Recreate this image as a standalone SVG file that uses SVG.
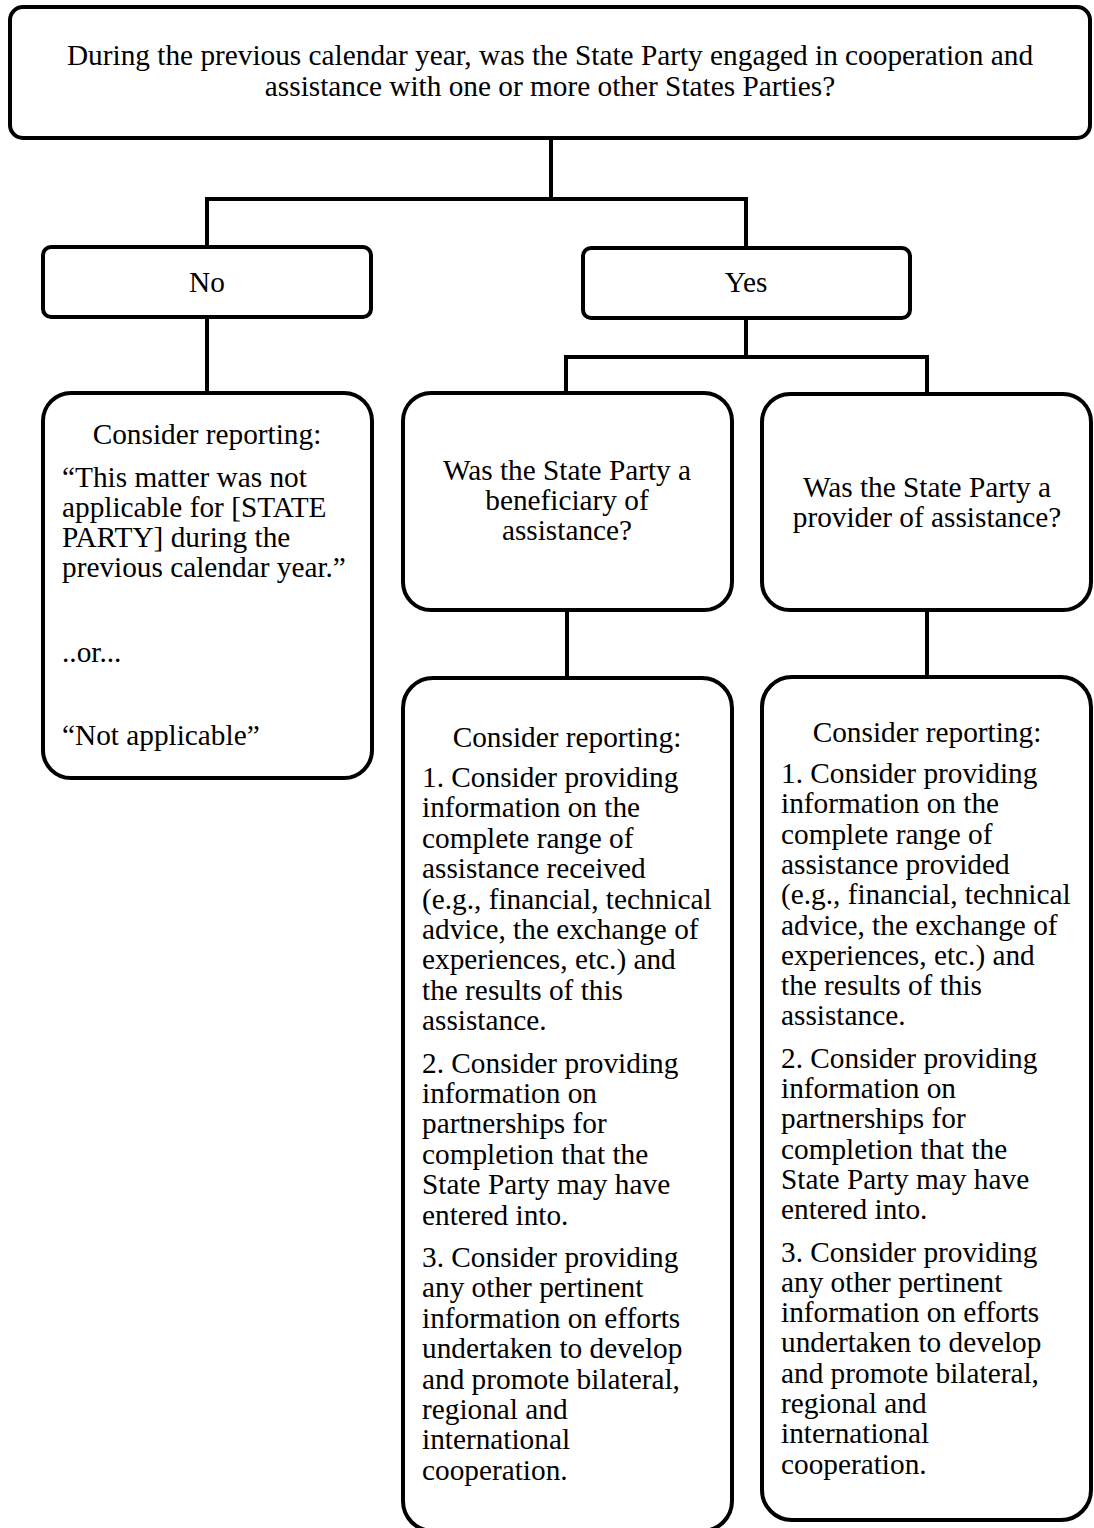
<svg xmlns="http://www.w3.org/2000/svg" width="1094" height="1528" viewBox="0 0 1094 1528">
<style>
.box{fill:#fff;stroke:#000;stroke-width:4}
.con{fill:none;stroke:#000;stroke-width:4;stroke-linecap:square}
text{font-family:"Liberation Serif","Times New Roman",serif;font-size:29.3px;fill:#000}
.c{text-anchor:middle}
</style>
<rect width="1094" height="1528" fill="#fff"/>
<g id="connectors">
<path class="con" d="M551 138V199M207 199H746M207 199V247M746 199V257"/>
<path class="con" d="M207 317V393"/>
<path class="con" d="M746 318V357M566 357H927M566 357V393M927 357V393"/>
<path class="con" d="M567 610V678"/>
<path class="con" d="M927 610V677"/>
</g>
<g id="q-top">
<rect class="box" x="10" y="7" width="1080" height="131" rx="13"/>
<text class="c" x="550" y="65">During the previous calendar year, was the State Party engaged in cooperation and</text>
<text class="c" x="550" y="96">assistance with one or more other States Parties?</text>
</g>
<g id="no">
<rect class="box" x="43" y="247" width="328" height="70" rx="8"/>
<text class="c" x="207" y="292">No</text>
</g>
<g id="yes">
<rect class="box" x="583" y="248" width="327" height="70" rx="8"/>
<text class="c" x="746" y="292">Yes</text>
</g>
<g id="no-report">
<rect class="box" x="43" y="393" width="329" height="385" rx="28"/>
<text class="c" x="207" y="444">Consider reporting:</text>
<text x="62" y="487">“This matter was not</text>
<text x="62" y="517">applicable for [STATE</text>
<text x="62" y="547">PARTY] during the</text>
<text x="62" y="577">previous calendar year.”</text>
<text x="62" y="662">..or...</text>
<text x="62" y="745">“Not applicable”</text>
</g>
<g id="q-beneficiary">
<rect class="box" x="403" y="393" width="329" height="217" rx="28"/>
<text class="c" x="567" y="480">Was the State Party a</text>
<text class="c" x="567" y="510">beneficiary of</text>
<text class="c" x="567" y="540">assistance?</text>
</g>
<g id="q-provider">
<rect class="box" x="762" y="394" width="329" height="216" rx="28"/>
<text class="c" x="927" y="497">Was the State Party a</text>
<text class="c" x="927" y="527">provider of assistance?</text>
</g>
<g id="beneficiary-report">
<rect class="box" x="403" y="678" width="329" height="853" rx="30"/>
<text class="c" x="567" y="747">Consider reporting:</text>
<text x="422" y="787">1. Consider providing</text>
<text x="422" y="817.4">information on the</text>
<text x="422" y="847.8">complete range of</text>
<text x="422" y="878.2">assistance received</text>
<text x="422" y="908.6">(e.g., financial, technical</text>
<text x="422" y="939">advice, the exchange of</text>
<text x="422" y="969.4">experiences, etc.) and</text>
<text x="422" y="999.8">the results of this</text>
<text x="422" y="1030.2">assistance.</text>
<text x="422" y="1072.6">2. Consider providing</text>
<text x="422" y="1103">information on</text>
<text x="422" y="1133.4">partnerships for</text>
<text x="422" y="1163.8">completion that the</text>
<text x="422" y="1194.2">State Party may have</text>
<text x="422" y="1224.6">entered into.</text>
<text x="422" y="1267">3. Consider providing</text>
<text x="422" y="1297.4">any other pertinent</text>
<text x="422" y="1327.8">information on efforts</text>
<text x="422" y="1358.2">undertaken to develop</text>
<text x="422" y="1388.6">and promote bilateral,</text>
<text x="422" y="1419">regional and</text>
<text x="422" y="1449.4">international</text>
<text x="422" y="1479.8">cooperation.</text>
</g>
<g id="provider-report">
<rect class="box" x="762" y="677" width="329" height="843" rx="30"/>
<text class="c" x="927" y="742">Consider reporting:</text>
<text x="781" y="783">1. Consider providing</text>
<text x="781" y="813.3">information on the</text>
<text x="781" y="843.6">complete range of</text>
<text x="781" y="873.9">assistance provided</text>
<text x="781" y="904.2">(e.g., financial, technical</text>
<text x="781" y="934.5">advice, the exchange of</text>
<text x="781" y="964.8">experiences, etc.) and</text>
<text x="781" y="995.1">the results of this</text>
<text x="781" y="1025.4">assistance.</text>
<text x="781" y="1067.7">2. Consider providing</text>
<text x="781" y="1098">information on</text>
<text x="781" y="1128.3">partnerships for</text>
<text x="781" y="1158.6">completion that the</text>
<text x="781" y="1188.9">State Party may have</text>
<text x="781" y="1219.2">entered into.</text>
<text x="781" y="1261.5">3. Consider providing</text>
<text x="781" y="1291.8">any other pertinent</text>
<text x="781" y="1322.1">information on efforts</text>
<text x="781" y="1352.4">undertaken to develop</text>
<text x="781" y="1382.7">and promote bilateral,</text>
<text x="781" y="1413">regional and</text>
<text x="781" y="1443.3">international</text>
<text x="781" y="1473.6">cooperation.</text>
</g>
</svg>
